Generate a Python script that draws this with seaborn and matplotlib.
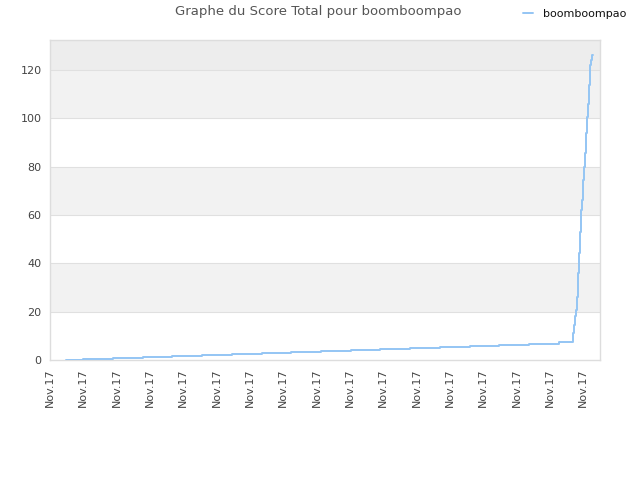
import matplotlib
matplotlib.use("Agg")
import matplotlib.pyplot as plt
import seaborn as sns
import pandas as pd

sns.set_style("white")
plt.rcParams['font.family'] = ['DejaVu Sans']

title = "Graphe du Score Total pour boomboompao"
player = "boomboompao"
tick_labels = ["Nov.17"] * 17
tick_pos = list(range(17))

# step positions (x in tick units) and cumulative score
x_vals = [0.48, 0.99, 1.89, 2.79, 3.66, 4.56, 5.46, 6.36, 7.23, 8.13, 9.03,
          9.90, 10.80, 11.70, 12.60, 13.47, 14.37, 15.27,
          15.69, 15.72, 15.75, 15.78, 15.81, 15.84, 15.87, 15.90, 15.93,
          15.96, 15.99, 16.02, 16.05, 16.08, 16.11, 16.14, 16.17, 16.20,
          16.23, 16.27, 16.29]
scores = [0.2, 0.5, 0.85, 1.25, 1.65, 2.15, 2.6, 3.0, 3.4, 3.85, 4.3,
          4.7, 5.1, 5.5, 5.9, 6.3, 6.7, 7.25,
          11.2, 14.5, 18.2, 20.7, 26.0, 36.0, 44.3, 53.0, 62.0,
          66.0, 74.5, 80.0, 85.6, 94.0, 100.5, 106.0, 113.8, 122.0,
          124.0, 126.0, 126.0]

df = pd.DataFrame({"x": x_vals, "score": scores, "player": player})

fig = plt.figure(figsize=(6.4, 4.8), dpi=100)
ax = fig.add_axes([50/640, 1-360/480, 550/640, 320/480])

ymax = 132.4
bands = [(20, 40, "#f2f2f2"), (60, 80, "#f2f2f2"), (100, 120, "#f2f2f2"), (120, ymax, "#ededed")]
for lo, hi, c in bands:
    ax.axhspan(lo, hi, color=c, zorder=0, lw=0)
for yv in [20, 40, 60, 80, 100, 120]:
    ax.axhline(yv, color="#e0e0e0", lw=0.8, zorder=1)

sns.lineplot(data=df, x="x", y="score", hue="player", palette=["#94c5f4"],
             drawstyle="steps-post", lw=1.4, ax=ax, zorder=3, sort=False)

ax.set_xlim(0, 16.5)
ax.set_ylim(0, ymax)
ax.set_xticks(tick_pos)
ax.set_xticklabels(tick_labels, rotation=90, fontsize=8, color="#444444")
ax.set_yticks([0, 20, 40, 60, 80, 100, 120])
ax.set_yticklabels(["0", "20", "40", "60", "80", "100", "120"], fontsize=8, color="#444444")
ax.tick_params(axis="both", length=0, pad=6)
ax.set_xlabel("")
ax.set_ylabel("")
for s in ax.spines.values():
    s.set_color("#dddddd")
    s.set_linewidth(1)

handles, labels = ax.get_legend_handles_labels()
ax.get_legend().remove()
leg = fig.legend(handles, labels, loc="center right", bbox_to_anchor=(626/640, 1-14/480),
                 frameon=False, fontsize=8, handlelength=0.9, handletextpad=0.9,
                 borderaxespad=0, borderpad=0)
for t in leg.get_texts():
    t.set_color("#111111")

fig.text(318/640, 1-12/480, title, ha="center", va="center", fontsize=9.5, color="#555555")

fig.savefig("out.png", dpi=100)
